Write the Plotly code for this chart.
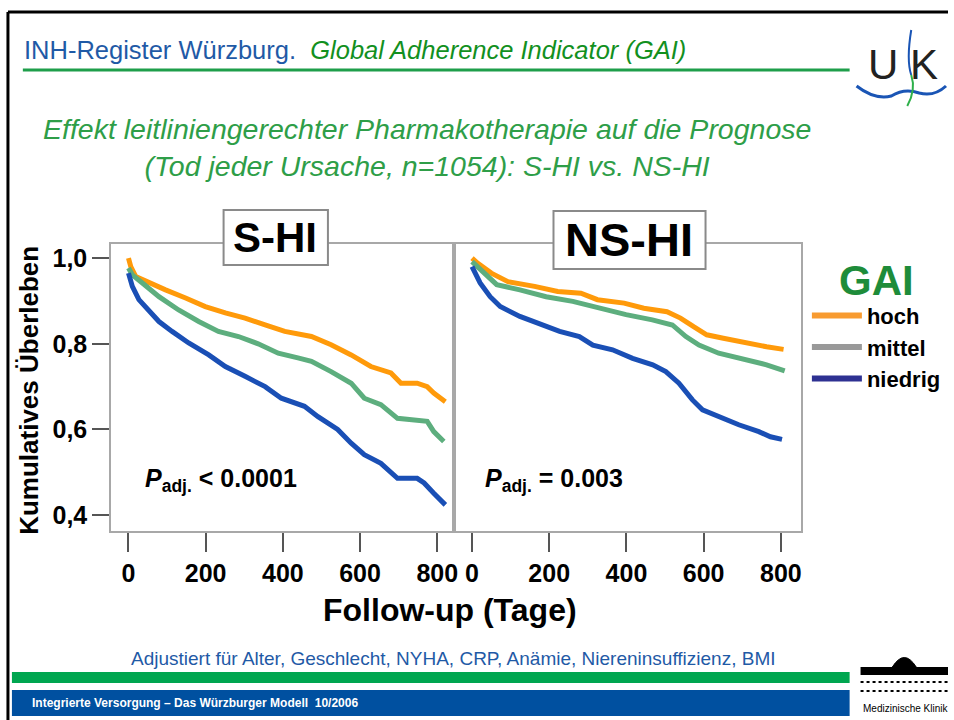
import plotly.graph_objects as go

# ---- data: Kaplan-Meier survival ----
# S-HI panel
shi_hoch_t = [0, 6, 19, 53, 96, 148, 199, 251, 302, 354, 405, 474, 525, 577, 628, 680, 706, 748, 774, 791, 821]
shi_hoch_s = [1.0, 0.98, 0.957, 0.942, 0.926, 0.907, 0.887, 0.872, 0.86, 0.844, 0.829, 0.817, 0.798, 0.774, 0.747, 0.732, 0.708, 0.708, 0.70, 0.685, 0.665]

shi_mittel_t = [0, 10, 36, 79, 130, 182, 233, 285, 336, 388, 439, 474, 525, 577, 611, 654, 697, 748, 774, 791, 817]
shi_mittel_s = [0.977, 0.961, 0.942, 0.91, 0.879, 0.852, 0.829, 0.817, 0.80, 0.778, 0.767, 0.759, 0.735, 0.708, 0.673, 0.658, 0.626, 0.623, 0.619, 0.595, 0.572]

shi_niedrig_t = [0, 10, 27, 53, 79, 113, 156, 208, 251, 302, 354, 396, 456, 491, 542, 577, 611, 654, 697, 748, 766, 791, 821]
shi_niedrig_s = [0.965, 0.934, 0.903, 0.879, 0.852, 0.829, 0.802, 0.774, 0.747, 0.724, 0.70, 0.673, 0.654, 0.63, 0.60, 0.568, 0.541, 0.521, 0.486, 0.486, 0.475, 0.451, 0.424]

# NS-HI panel
nshi_hoch_t = [0, 15, 50, 93, 162, 222, 282, 325, 394, 445, 505, 540, 574, 608, 651, 711, 763, 807]
nshi_hoch_s = [1.0, 0.988, 0.965, 0.945, 0.934, 0.922, 0.918, 0.903, 0.895, 0.883, 0.875, 0.86, 0.84, 0.821, 0.813, 0.801, 0.793, 0.787]

nshi_mittel_t = [0, 21, 64, 124, 192, 261, 330, 399, 467, 519, 554, 588, 639, 711, 763, 810]
nshi_mittel_s = [0.992, 0.973, 0.938, 0.926, 0.91, 0.899, 0.883, 0.868, 0.856, 0.844, 0.817, 0.797, 0.778, 0.762, 0.751, 0.737]

nshi_niedrig_t = [0, 21, 47, 73, 124, 175, 227, 278, 313, 364, 416, 468, 502, 536, 571, 597, 640, 691, 743, 773, 803]
nshi_niedrig_s = [0.98, 0.942, 0.91, 0.887, 0.864, 0.848, 0.829, 0.817, 0.797, 0.786, 0.766, 0.751, 0.735, 0.708, 0.669, 0.646, 0.63, 0.611, 0.595, 0.583, 0.577]

x_ticks = [0, 200, 400, 600, 800]
y_ticks = [0.4, 0.6, 0.8, 1.0]
y_ticktext = ["0,4", "0,6", "0,8", "1,0"]

groups = ["hoch", "mittel", "niedrig"]
line_colors = ["#FF9A0A", "#5DAE7E", "#1A4FB5"]
legend_colors = ["#F89B30", "#999999", "#2E3192"]

W, H = 954, 720
NARROW = "Liberation Sans Narrow, Arial Narrow, Liberation Sans, Arial"
SANS = "Liberation Sans, Arial, sans-serif"


def px(x):
    return x / W


def py(y):
    return 1 - y / H


fig = go.Figure()

panels = [
    ("x", "y", [(shi_hoch_t, shi_hoch_s), (shi_mittel_t, shi_mittel_s), (shi_niedrig_t, shi_niedrig_s)]),
    ("x2", "y2", [(nshi_hoch_t, nshi_hoch_s), (nshi_mittel_t, nshi_mittel_s), (nshi_niedrig_t, nshi_niedrig_s)]),
]
for xa, ya, series in panels:
    for (t, s), name, col in zip(series, groups, line_colors):
        fig.add_trace(go.Scatter(
            x=t, y=s, mode="lines", name=name, showlegend=False,
            line=dict(color=col, width=5),
            xaxis=xa, yaxis=ya, hoverinfo="skip",
        ))

# legend entries (legend colours differ from the curve colours on the slide)
for name, col in zip(groups, legend_colors):
    fig.add_trace(go.Scatter(
        x=[None], y=[None], mode="lines", name=name,
        line=dict(color=col, width=6), xaxis="x", yaxis="y",
    ))

frame = dict(showline=True, linecolor="#A8A8A8", linewidth=2, mirror=True,
             showgrid=False, zeroline=False)
ydom = [py(531), py(244)]
yrange = [0.363, 1.033]
xtickfont = dict(family=SANS, size=25, color="black", weight="bold")

fig.update_layout(
    width=W, height=H,
    margin=dict(l=0, r=0, t=0, b=0),
    paper_bgcolor="white", plot_bgcolor="white",
    xaxis=dict(domain=[px(112), px(455)], range=[-44.5, 838.6], anchor="y",
               tickvals=x_ticks, ticks="outside", ticklen=19, tickwidth=2, tickcolor="#555",
               tickfont=xtickfont, **frame),
    yaxis=dict(domain=ydom, range=yrange, anchor="x",
               tickvals=y_ticks, ticktext=y_ticktext, ticks="outside", ticklen=17, tickwidth=2,
               tickcolor="#555", tickfont=dict(family=SANS, size=25, color="black", weight="bold"), **frame),
    xaxis2=dict(domain=[px(459), px(806)], range=[-41.2, 852], anchor="y2",
                tickvals=x_ticks, ticks="outside", ticklen=19, tickwidth=2, tickcolor="#555",
                tickfont=xtickfont, **frame),
    yaxis2=dict(domain=ydom, range=yrange, anchor="x2", showticklabels=False, ticks="", **frame),
    legend=dict(
        x=px(812), y=py(240), xanchor="left", yanchor="top",
        bgcolor="rgba(0,0,0,0)", itemwidth=50, tracegroupgap=0,
        font=dict(family=SANS, size=22, color="black", weight="bold"),
        title=dict(text="GAI", side="top center",
                   font=dict(family=SANS, size=42, color="#1E8C3A", weight="bold")),
    ),
)

shapes = []
# slide border
shapes.append(dict(type="line", xref="paper", yref="paper", x0=px(8), x1=1, y0=py(12), y1=py(12),
                   line=dict(color="black", width=3)))
shapes.append(dict(type="line", xref="paper", yref="paper", x0=px(8), x1=px(8), y0=py(12), y1=0,
                   line=dict(color="black", width=3)))
# header underline
shapes.append(dict(type="line", xref="paper", yref="paper", x0=px(23), x1=px(855), y0=py(70), y1=py(70),
                   line=dict(color="#1E9E4A", width=3)))
# panel title boxes
for x0, x1, y0, y1 in [(225, 330, 210, 265), (557, 710, 211, 269)]:
    shapes.append(dict(type="rect", xref="paper", yref="paper", layer="above",
                       x0=px(x0), x1=px(x1), y0=py(y1), y1=py(y0),
                       fillcolor="white", line=dict(color="#8A8A8A", width=2)))
# footer bars
shapes.append(dict(type="rect", xref="paper", yref="paper", x0=px(12), x1=px(855), y0=py(683), y1=py(672),
                   fillcolor="#00A650", line=dict(width=0)))
shapes.append(dict(type="rect", xref="paper", yref="paper", x0=px(12), x1=px(855), y0=py(716), y1=py(690),
                   fillcolor="#0050A0", line=dict(width=0)))
# UK logo: wave and stroke
wave = "M {} {} Q {} {} {} {} Q {} {} {} {} Q {} {} {} {}".format(
    px(862), py(86), px(880), py(100), px(897), py(96),
    px(910), py(88), px(925), py(93), px(940), py(97), px(952), py(86))
shapes.append(dict(type="path", xref="paper", yref="paper", path=wave, line=dict(color="#1A55B5", width=3)))
shapes.append(dict(type="path", xref="paper", yref="paper",
                   path="M {} {} Q {} {} {} {}".format(px(917), py(30), px(912), py(60), px(917), py(75)),
                   line=dict(color="#1A55B5", width=2)))
shapes.append(dict(type="path", xref="paper", yref="paper",
                   path="M {} {} Q {} {} {} {}".format(px(917), py(75), px(922), py(90), px(913), py(106)),
                   line=dict(color="#2EB04A", width=2)))
# building logo (rough)
shapes.append(dict(type="rect", xref="paper", yref="paper", x0=px(866), x1=px(954), y0=py(675), y1=py(667),
                   fillcolor="black", line=dict(width=0)))
shapes.append(dict(type="path", xref="paper", yref="paper",
                   path="M {} {} Q {} {} {} {} Z".format(px(898), py(667), px(910), py(648), px(922), py(667)),
                   fillcolor="black", line=dict(color="black", width=1)))
for yy in (682, 691):
    shapes.append(dict(type="line", xref="paper", yref="paper", x0=px(866), x1=px(954), y0=py(yy), y1=py(yy),
                       line=dict(color="black", width=2, dash="dot")))
fig.update_layout(shapes=shapes)


def note(x, y, text, font, xanchor="center", **kw):
    return dict(x=px(x), y=py(y), xref="paper", yref="paper", xanchor=xanchor, yanchor="middle",
                showarrow=False, text=text, font=font, **kw)


ann = [
    note(22, 50, "<span style='color:#1F5AA6'>INH-Register Würzburg.</span>  "
                 "<i style='color:#12901E'>Global Adherence Indicator (GAI)</i>",
         dict(family=NARROW, size=25.5), xanchor="left"),
    note(430, 148, "<i>Effekt leitliniengerechter Pharmakotherapie auf die Prognose<br>"
                   "(Tod jeder Ursache, n=1054): S-HI vs. NS-HI</i>",
         dict(family=NARROW, size=28.5, color="#2E9E48")),
    note(277, 238, "<b>S-HI</b>", dict(family=SANS, size=42, color="black")),
    note(633, 240, "<b>NS-HI</b>", dict(family=SANS, size=47, color="black")),
    note(144, 480, "<b><i>P</i><sub>adj.</sub> &lt; 0.0001</b>", dict(family=SANS, size=25, color="black"),
         xanchor="left"),
    note(486, 480, "<b><i>P</i><sub>adj.</sub> = 0.003</b>", dict(family=SANS, size=25, color="black"),
         xanchor="left"),
    note(29, 390, "<b>Kumulatives Überleben</b>", dict(family=SANS, size=26, color="black"), textangle=-90),
    note(453, 610, "<b>Follow-up (Tage)</b>", dict(family=NARROW, size=32, color="black")),
    note(456, 658, "Adjustiert für Alter, Geschlecht, NYHA, CRP, Anämie, Niereninsuffizienz, BMI",
         dict(family=NARROW, size=19, color="#1F5AA6")),
    note(30, 703, "<b>Integrierte Versorgung – Das Würzburger Modell  10/2006</b>",
         dict(family=NARROW, size=12, color="white"), xanchor="left"),
    note(889, 64, "U", dict(family=SANS, size=42, color="#222")),
    note(930, 64, "K", dict(family=SANS, size=42, color="#222")),
    note(911, 708, "Medizinische Klinik", dict(family=NARROW, size=10, color="black")),
]
fig.update_layout(annotations=ann)

# the page's default body margin would shift the 954x720 figure by 8px
fig.write_html("out.html", config={"displayModeBar": False},
               post_script="document.body.style.margin='0';")
